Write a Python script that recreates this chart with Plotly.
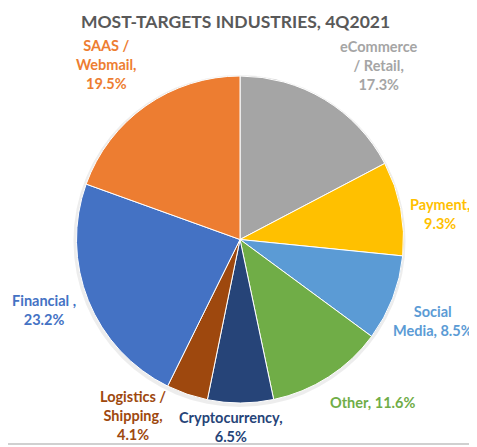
import math
import plotly.graph_objects as go

# Slices, clockwise from 12 o'clock
industries = ["eCommerce / Retail", "Payment", "Social Media", "Other",
              "Cryptocurrency", "Logistics / Shipping", "Financial", "SAAS / Webmail"]
shares = [17.3, 9.3, 8.5, 11.6, 6.5, 4.1, 23.2, 19.5]
label_prefix = ["eCommerce<br>/ Retail,<br>", "Payment,<br>", "Social<br>Media, ", "Other, ",
                "Cryptocurrency,<br>", "Logistics /<br>Shipping,<br>", "Financial ,<br>",
                "SAAS /<br>Webmail,<br>"]
colors = ["#A5A5A5", "#FFC000", "#5B9BD5", "#70AD47",
          "#264478", "#9E480E", "#4472C4", "#ED7D31"]

# the page body has an 8px margin, so the figure itself is 8px smaller
W, H = 469, 439
FONT = "Lato"

# pie box in figure pixels
px0, px1, py0, py1 = 68.5, 395.5, 68, 395
cx, cy = (px0 + px1) / 2, (py0 + py1) / 2
r = min(px1 - px0, py1 - py0) / 2
gap = 8

# hand tweaks of the label spots (pixels), like dragged labels in the original
nudge = {
    "eCommerce / Retail": (9, 2), "Payment": (0, 7), "Social Media": (-9, 0),
    "Other": (-5, 8), "Cryptocurrency": (-10, -4), "Logistics / Shipping": (-16, -16),
    "Financial": (-3, -14), "SAAS / Webmail": (-2, -5),
}

fig = go.Figure()

# soft shadow behind the pie
fig.add_trace(go.Pie(
    values=[1], textinfo="none", hoverinfo="skip", showlegend=False, sort=False,
    marker=dict(colors=["rgba(0,0,0,0.07)"]),
    domain=dict(x=[(px0 - 3) / W, (px1 + 2) / W], y=[(H - py1 - 4) / H, (H - py0 + 1) / H]),
))

fig.add_trace(go.Pie(
    labels=industries,
    values=shares,
    textinfo="none",
    sort=False,
    direction="clockwise",
    rotation=0,
    marker=dict(colors=colors, line=dict(color="white", width=1)),
    showlegend=False,
    domain=dict(x=[px0 / W, px1 / W], y=[(H - py1) / H, (H - py0) / H]),
    hoverinfo="label+percent",
))

# data labels just outside each slice, anchored on the side facing the pie
total = sum(shares)
start = 0.0
for name, prefix, v, col in zip(industries, label_prefix, shares, colors):
    mid = (start + v / 2) / total * 2 * math.pi
    start += v
    ux, uy = math.sin(mid), -math.cos(mid)
    dx, dy = nudge[name]
    x = cx + (r + gap) * ux + dx
    y = cy + (r + gap) * uy + dy
    xanchor = "left" if ux > 0.25 else "right" if ux < -0.25 else "center"
    yanchor = "top" if uy > 0.25 else "bottom" if uy < -0.25 else "middle"
    txt = "<b>" + (prefix + f"{v}%").replace("<br>", "</b><br><b>") + "</b>"
    fig.add_annotation(x=x / W, y=1 - y / H, xref="paper", yref="paper",
                       text=txt, showarrow=False, xanchor=xanchor, yanchor=yanchor,
                       align="center", font=dict(family=FONT, size=14.5, color=col))

fig.update_layout(
    width=W, height=H,
    margin=dict(l=0, r=0, t=0, b=0),
    paper_bgcolor="white",
    title=dict(text="<b>MOST-TARGETS INDUSTRIES, 4Q2021</b>", x=227.5 / W, xanchor="center",
               y=1 - 14 / H, yanchor="middle",
               font=dict(family=FONT, size=17.5, color="#595959")),
    shapes=[dict(type="line", xref="paper", yref="paper", x0=466 / W, x1=466 / W, y0=3 / H, y1=1,
                 line=dict(color="#D0D0D0", width=2)),
            dict(type="line", xref="paper", yref="paper", x0=0, x1=466 / W, y0=3 / H, y1=3 / H,
                 line=dict(color="#D0D0D0", width=2))],
)

fig.write_html("out.html")
